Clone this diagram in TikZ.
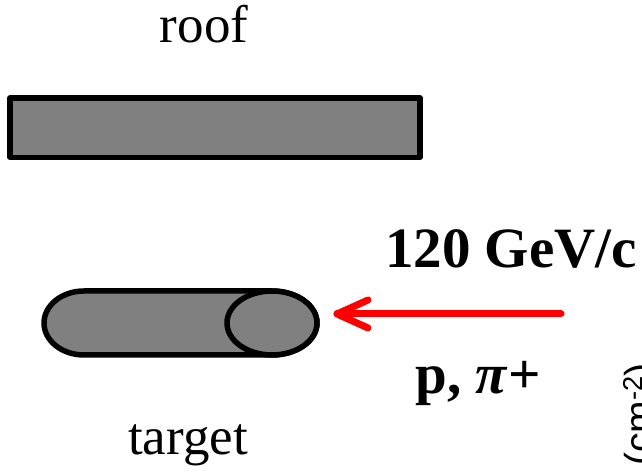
\documentclass[tikz,border=0pt]{standalone}
\usepackage{fontspec}
\setmainfont{Liberation Serif}
\newfontfamily\sansf{Liberation Sans}
\begin{document}
\begin{tikzpicture}[x=1pt,y=1pt,
  body/.style={draw=black,fill=gray,line width=5.5pt,line join=round},
  lbl/.style={inner sep=0pt,anchor=base,font=\fontsize{53}{60}\selectfont},
  blbl/.style={inner sep=0pt,anchor=base,font=\fontsize{57}{64}\selectfont\bfseries},
  beam/.style={draw=red,line width=7pt,line cap=round,line join=round}]
\useasboundingbox (0,0) rectangle (642,473);
\clip (0,0) rectangle (642,473);
% roof
\draw[body] (10,315.5) rectangle (420,375);
\node[lbl] (roof) at (204,430) {roof};
% target
\draw[body] (84,182) -- (272,182) arc[start angle=90,end angle=-90,x radius=45pt,y radius=32pt]
  -- (84,118) arc[start angle=270,end angle=90,x radius=40pt,y radius=32pt] -- cycle;
\draw[body] (272,150) ellipse [x radius=45pt,y radius=32pt];
\node[lbl] (target) at (188,18) {target};
% beam
\coordinate (bstart) at (561,159);
\coordinate (btip) at (337,159);
\coordinate (bw1) at (368,173);
\coordinate (bw2) at (368,145);
\draw[beam] (bstart) -- (btip);
\draw[beam] (bw1) -- (btip) -- (bw2);
\node[blbl] (energy) at (511,205) {120 GeV/c};
\node[blbl] (particles) at (478,79) {p, \textit{π}+};
% axis label (cut off at the edge, as in the reference)
\node[inner sep=0pt,anchor=base east,rotate=90,font=\sansf\fontsize{39}{44}\selectfont] (axis) at (652,110) {e (cm\textsuperscript{-2})};
\end{tikzpicture}
\end{document}
